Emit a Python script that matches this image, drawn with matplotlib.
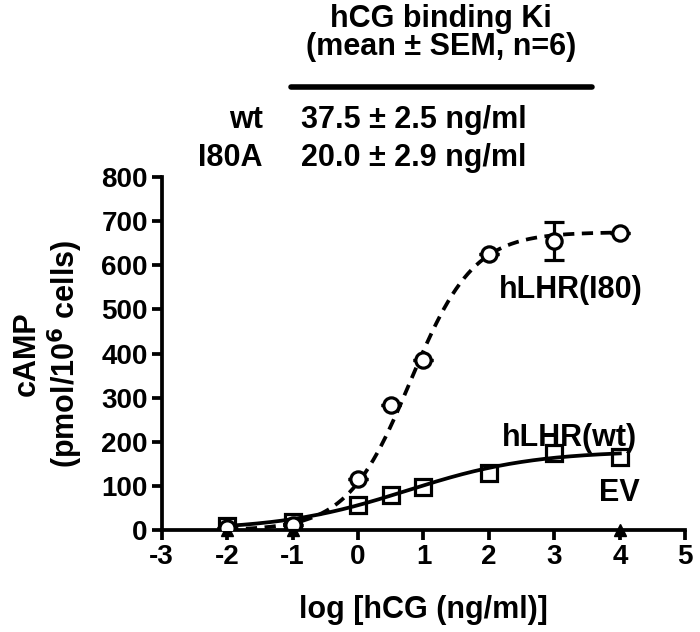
import matplotlib
matplotlib.use('Agg')
import matplotlib.pyplot as plt
import numpy as np

plt.rcParams['font.family'] = ['Liberation Sans', 'DejaVu Sans']
plt.rcParams['font.weight'] = 'bold'
plt.rcParams['axes.unicode_minus'] = False

# data
log_hcg = [-2, -1, 0, 0.5, 1, 2, 3, 4]
camp_i80 = [5, 12, 115, 283, 385, 625, 655, 672]
sem_i80 = [0, 0, 0, 0, 0, 0, 43, 0]
camp_wt = [10, 18, 57, 80, 97, 130, 175, 165]
log_ev = [-2, -1, 4]
camp_ev = [0, 0, 0]

# sigmoid fit parameters (bottom, top, logEC50, hill) estimated from curves
fit_i80 = (0, 675, 0.8, 0.9)
fit_wt = (0, 180, 0.75, 0.45)

ki_names = ['wt', 'I80A']
ki_values = ['37.5 \u00b1 2.5 ng/ml', '20.0 \u00b1 2.9 ng/ml']


def sigmoid(x, p):
    bottom, top, ec50, hill = p
    return bottom + (top - bottom) / (1 + 10 ** ((ec50 - x) * hill))


fig = plt.figure(figsize=(7, 6.32), dpi=100)
ax = fig.add_axes([0.231, 0.161, 0.748, 0.559])

xs = np.linspace(-2, 4, 200)
ax.plot(xs, sigmoid(xs, fit_i80), color='black', lw=2.7, ls=(0, (3, 2)))
ax.plot(xs, sigmoid(xs, fit_wt), color='black', lw=2.7)

ax.errorbar(log_hcg, camp_i80, yerr=sem_i80, fmt='o', ms=11, mfc='white',
            mec='black', mew=2.3, ecolor='black', elinewidth=2.3, capsize=7,
            capthick=2.3, zorder=5)
ax.plot(log_hcg, camp_wt, 's', ms=12, mfc='none', mec='black', mew=2.3, zorder=6)
ax.plot(log_ev, camp_ev, '^', ms=8, color='black', zorder=4, clip_on=False)

ax.set_xlim(-3, 5)
ax.set_ylim(0, 800)
ax.set_xticks(range(-3, 6))
ax.set_yticks(range(0, 801, 100))
for s in ['top', 'right']:
    ax.spines[s].set_visible(False)
for s in ['left', 'bottom']:
    ax.spines[s].set_linewidth(2.7)
ax.tick_params(direction='out', length=7, width=2.7, labelsize=20, pad=3)
for lab in ax.get_xticklabels() + ax.get_yticklabels():
    lab.set_fontweight('bold')

ax.set_xlabel('log [hCG (ng/ml)]', fontsize=22, fontweight='bold', labelpad=18)
ax.set_ylabel('cAMP\n(pmol/10$^{\\mathbf{6}}$ cells)', fontsize=22, fontweight='bold',
              labelpad=12, linespacing=1.1)

ax.text(2.15, 545, 'hLHR(I80)', fontsize=22, fontweight='bold', va='center')
ax.text(2.2, 208, 'hLHR(wt)', fontsize=22, fontweight='bold', va='center')
ax.text(4, 85, 'EV', fontsize=22, fontweight='bold', ha='center', va='center')

# header table
fig.text(0.63, 0.97, 'hCG binding Ki', fontsize=22, fontweight='bold',
         ha='center', va='center')
fig.text(0.63, 0.925, '(mean \u00b1 SEM, n=6)', fontsize=22, fontweight='bold',
         ha='center', va='center')
fig.add_artist(plt.Line2D([0.415, 0.845], [0.862, 0.862], color='black', lw=4,
                          solid_capstyle='round'))
for i, (n, v) in enumerate(zip(ki_names, ki_values)):
    y = 0.81 - i * 0.06
    fig.text(0.375, y, n, fontsize=22, fontweight='bold', ha='right', va='center')
    fig.text(0.43, y, v, fontsize=22, fontweight='bold', ha='left', va='center')

fig.savefig('out.png', dpi=100)
